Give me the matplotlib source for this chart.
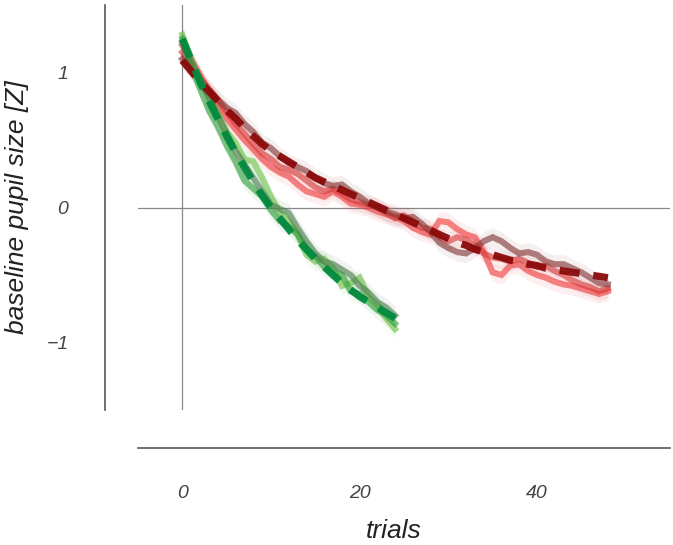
import numpy as np
import matplotlib
matplotlib.use("Agg")
import matplotlib.pyplot as plt

plt.rcParams["font.family"] = ["Liberation Sans", "DejaVu Sans"]

# short task (green) and long task (red) baseline pupil traces
trials_short = list(range(25))
trials_long = list(range(49))

green_light = [1.28, 1.10, 0.94, 0.82, 0.70, 0.56, 0.48, 0.36, 0.34, 0.22, 0.08, -0.04, -0.10,
               -0.20, -0.35, -0.40, -0.38, -0.45, -0.58, -0.56, -0.52, -0.66, -0.72, -0.82, -0.90]
green_mid = [1.25, 1.04, 0.88, 0.72, 0.60, 0.46, 0.34, 0.20, 0.14, 0.08, -0.02, -0.10, -0.14,
             -0.20, -0.30, -0.36, -0.44, -0.47, -0.50, -0.62, -0.64, -0.70, -0.76, -0.80, -0.86]
green_gray = [1.22, 1.08, 0.95, 0.82, 0.68, 0.55, 0.42, 0.32, 0.22, 0.12, 0.02, -0.01, -0.04,
              -0.15, -0.25, -0.34, -0.40, -0.42, -0.46, -0.50, -0.58, -0.63, -0.70, -0.74, -0.80]
green_fit = [1.25, 1.09, 0.93, 0.79, 0.66, 0.53, 0.41, 0.30, 0.19, 0.09, 0.00, -0.08, -0.16,
             -0.24, -0.31, -0.38, -0.44, -0.50, -0.56, -0.61, -0.66, -0.70, -0.74, -0.78, -0.82]

red_light = [1.20, 1.10, 0.98, 0.86, 0.76, 0.66, 0.58, 0.50, 0.43, 0.36, 0.30, 0.26, 0.23, 0.17,
             0.12, 0.10, 0.08, 0.12, 0.08, 0.03, 0.02, 0.00, -0.03, -0.05, -0.07, -0.10, -0.15,
             -0.18, -0.20, -0.10, -0.11, -0.16, -0.20, -0.22, -0.33, -0.48, -0.50, -0.43, -0.42,
             -0.47, -0.50, -0.52, -0.55, -0.57, -0.58, -0.60, -0.62, -0.64, -0.62]
red_mid = [1.15, 1.06, 0.96, 0.88, 0.80, 0.71, 0.62, 0.55, 0.47, 0.40, 0.36, 0.30, 0.28, 0.25,
           0.20, 0.15, 0.12, 0.14, 0.10, 0.06, 0.04, 0.02, 0.00, -0.04, -0.08, -0.06, -0.10,
           -0.15, -0.16, -0.22, -0.25, -0.22, -0.24, -0.28, -0.34, -0.37, -0.38, -0.40, -0.38,
           -0.41, -0.44, -0.43, -0.47, -0.50, -0.54, -0.57, -0.59, -0.62, -0.60]
red_gray = [1.10, 1.02, 0.94, 0.87, 0.80, 0.74, 0.70, 0.62, 0.56, 0.48, 0.44, 0.38, 0.33, 0.30,
            0.27, 0.22, 0.18, 0.16, 0.17, 0.12, 0.08, 0.03, 0.00, -0.03, -0.05, -0.08, -0.07,
            -0.12, -0.18, -0.26, -0.30, -0.33, -0.34, -0.30, -0.25, -0.22, -0.25, -0.30, -0.34,
            -0.33, -0.35, -0.40, -0.42, -0.42, -0.45, -0.48, -0.52, -0.56, -0.57]
red_fit = [1.09, 1.01, 0.93, 0.86, 0.79, 0.72, 0.66, 0.59, 0.53, 0.47, 0.42, 0.38, 0.34, 0.30,
           0.26, 0.22, 0.19, 0.16, 0.13, 0.10, 0.07, 0.04, 0.01, -0.02, -0.05, -0.08, -0.11,
           -0.14, -0.17, -0.20, -0.23, -0.26, -0.28, -0.31, -0.33, -0.35, -0.37, -0.39, -0.40,
           -0.42, -0.43, -0.45, -0.46, -0.47, -0.48, -0.49, -0.50, -0.51, -0.52]

sem = 0.07

fig = plt.figure(figsize=(6.73, 5.45), dpi=100)
ax = fig.add_axes([0.205, 0.2477, 0.7905, 0.7431])

ax.axhline(0, color="#888888", lw=0.9, zorder=0)
ax.axvline(0, color="#888888", lw=0.9, zorder=0)

traces = [
    (trials_long, red_light, "#f03c3c"),
    (trials_long, red_mid, "#d83838"),
    (trials_long, red_gray, "#823434"),
    (trials_short, green_light, "#6cc04a"),
    (trials_short, green_mid, "#2f9e38"),
    (trials_short, green_gray, "#4c7c4e"),
]
for x, y, c in traces:
    y = np.array(y)
    ax.fill_between(x, y - sem, y + sem, color=c, alpha=0.08, lw=0)
    ax.plot(x, y, color=c, lw=4.4, alpha=0.62, solid_joinstyle="miter")

ax.plot(trials_long, red_fit, color="#8b0a0a", lw=5.2, ls=(0, (2.8, 1.9)), alpha=0.95)
ax.plot(trials_short, green_fit, color="#008a3e", lw=5.2, ls=(0, (2.8, 1.9)), alpha=0.95)

ax.set_xlim(-5, 55)
ax.set_ylim(-1.5, 1.5)
ax.set_xticks([0, 20, 40])
ax.set_yticks([-1, 0, 1])
ax.set_yticklabels(["\u22121", "0", "1"])

for s in ["top", "right"]:
    ax.spines[s].set_visible(False)
ax.spines["left"].set_position(("outward", 24))
ax.spines["bottom"].set_position(("outward", 27))
for s in ["left", "bottom"]:
    ax.spines[s].set_color("#555555")
    ax.spines[s].set_linewidth(1.2)

ax.tick_params(axis="both", length=0, labelsize=14, labelcolor="#444444")
ax.tick_params(axis="y", pad=26)
ax.tick_params(axis="x", pad=27)
for lab in ax.get_xticklabels() + ax.get_yticklabels():
    lab.set_fontstyle("italic")

ax.set_xlabel("trials", fontsize=19, fontstyle="italic", color="#222222")
ax.set_ylabel("baseline pupil size [Z]", fontsize=19, fontstyle="italic", color="#222222")
ax.xaxis.set_label_coords(0.48, -0.268)
ax.yaxis.set_label_coords(-0.205, 0.5)

fig.savefig("out.png", dpi=100)
